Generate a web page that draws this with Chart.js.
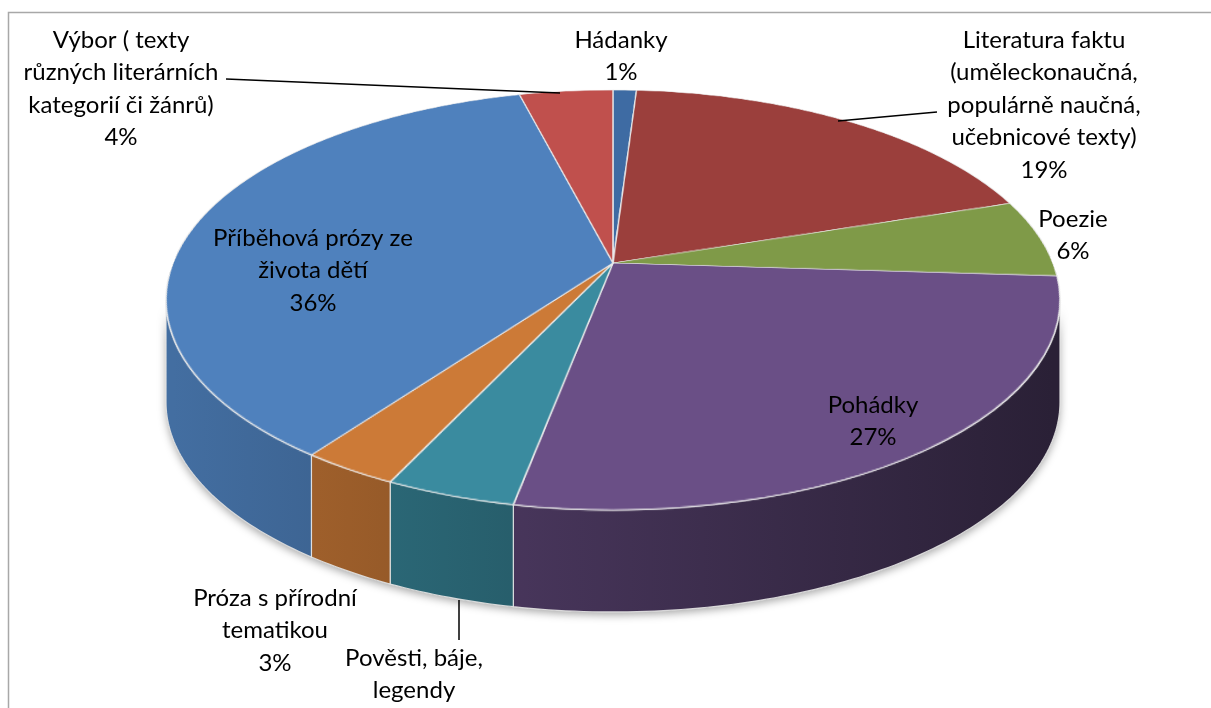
<!DOCTYPE html>
<html>
<head>
<meta charset="utf-8">
<script src="https://cdn.jsdelivr.net/npm/chart.js@4"></script>
<style>
  html, body { margin: 0; padding: 0; background: #fff; }
  #wrap { width: 1211px; height: 708px; position: relative; }
</style>
</head>
<body>
<div id="wrap"><canvas id="genreChart"></canvas></div>
<script>
// ===== DATA =====
const categories = [
    ["Hádanky"],
    ["Literatura faktu", "(uměleckonaučná,", "populárně naučná,", "učebnicové texty)"],
    ["Poezie"],
    ["Pohádky"],
    ["Pověsti, báje,", "legendy"],
    ["Próza s přírodní", "tematikou"],
    ["Příběhová prózy ze", "života dětí"],
    ["Výbor ( texty", "různých literárních", "kategorií či žánrů)"]
];
const shares = [1, 19, 6, 27, 4, 3, 36, 4];
const sliceColors = ["#3E6BA3", "#9B3F3C", "#7F9A48", "#6A4F86", "#3A8B9F", "#CC7A37", "#4F81BD", "#C0504D"];

// ===== LAYOUT =====
// tilted disc: apex of the slices, half axes and perspective factor, thickness
const persp = { cx: 613, cy: 263, a: 203.5, b: 440, k: -0.176, depth: 102 };
// centre of the first text line of every label
const labelPos = [[621, 40], [1044, 40], [1073, 219], [873, 405], [414, 658], [275, 598], [313, 238], [121, 40]];
const leaders = [null, [[838, 121], [937, 112]], null, null, [[459, 600], [459, 640]], null, null, [[226, 79], [560, 93]]];
const lineHeight = 32.5;
const labelFont = '24px Lato';

function shade(hex, f) {
    const n = parseInt(hex.slice(1), 16);
    const r = Math.round(((n >> 16) & 255) * f);
    const g = Math.round(((n >> 8) & 255) * f);
    const b = Math.round((n & 255) * f);
    return `rgb(${r},${g},${b})`;
}

// point on the rim of the disc for a pie angle, optionally dropped to the bottom face
function rimPoint(t, drop) {
    const s = Math.sin(t), c = Math.cos(t), d = 1 + persp.k * s;
    return [persp.cx + persp.b * c / d, persp.cy + persp.a * s / d + drop];
}

function rimPath(ctx, t0, t1) {
    const n = Math.max(2, Math.ceil((t1 - t0) * 60));
    for (let i = 0; i <= n; i++) {
        const p = rimPoint(t0 + (t1 - t0) * i / n, 0);
        i === 0 ? ctx.moveTo(p[0], p[1]) : ctx.lineTo(p[0], p[1]);
    }
    for (let i = n; i >= 0; i--) {
        const p = rimPoint(t0 + (t1 - t0) * i / n, persp.depth);
        ctx.lineTo(p[0], p[1]);
    }
    ctx.closePath();
}

// angles where the side of the disc turns away from the viewer
const sideRight = Math.asin(-persp.k);
const sideLeft = Math.PI - sideRight;

function drawWalls(ctx, arcs) {
    ctx.save();
    ctx.shadowColor = 'rgba(0,0,0,0.35)';
    ctx.shadowBlur = 9;
    ctx.shadowOffsetY = 3;
    ctx.beginPath();
    rimPath(ctx, sideRight, sideLeft);
    ctx.fillStyle = '#444';
    ctx.fill();
    ctx.restore();

    arcs.forEach((arc, i) => {
        const { startAngle, endAngle } = arc.getProps(['startAngle', 'endAngle'], true);
        const t0 = Math.max(startAngle, sideRight);
        const t1 = Math.min(endAngle, sideLeft);
        if (t1 <= t0) return;
        const grad = ctx.createLinearGradient(persp.cx - persp.b, 0, persp.cx + persp.b, 0);
        grad.addColorStop(0, shade(sliceColors[i], 0.85));
        grad.addColorStop(1, shade(sliceColors[i], 0.4));
        ctx.beginPath();
        rimPath(ctx, t0, t1);
        ctx.fillStyle = grad;
        ctx.fill();
        ctx.strokeStyle = 'rgba(230,230,230,0.9)';
        ctx.lineWidth = 1.2;
        ctx.stroke();
    });
}

// slices are drawn flattened on a buffer, then laid down row by row in perspective
function drawTop(ctx, arcs) {
    const Rh = 540, Rv = 210, m = 4;
    const buf = document.createElement('canvas');
    buf.width = 2 * Rh + 2 * m;
    buf.height = 2 * Rv + 2 * m;
    const o = buf.getContext('2d');
    const c0 = arcs[0].getProps(['x', 'y', 'outerRadius'], true);
    o.translate(Rh + m, Rv + m);
    o.scale(Rh / c0.outerRadius, Rv / c0.outerRadius);
    o.translate(-c0.x, -c0.y);
    arcs.forEach(arc => arc.draw(o));

    const { cx, cy, a, b, k } = persp;
    ctx.save();
    ctx.imageSmoothingEnabled = true;
    ctx.imageSmoothingQuality = 'high';
    const yTop = Math.floor(cy - a / (1 - k)) - 2;
    const yBot = Math.ceil(cy + a / (1 + k)) + 2;
    for (let y = yTop; y <= yBot; y++) {
        const dy = y + 0.5 - cy;
        const v = dy / (a - k * dy);
        if (Math.abs(v) > 1.03) continue;
        const d = 1 + k * v;
        const hw = b / d;
        const h = Rv * d * d / a;
        const sc = m + Rv * (1 + v);
        ctx.drawImage(buf, m, sc - h / 2, 2 * Rh, h, cx - hw, y, 2 * hw, 1);
    }
    ctx.restore();
}

const pie3d = {
    id: 'pie3d',
    beforeDraw(chart) {
        const ctx = chart.ctx;
        ctx.save();
        ctx.strokeStyle = '#A8A8A8';
        ctx.lineWidth = 1.5;
        ctx.beginPath();
        ctx.moveTo(8.5, 708);
        ctx.lineTo(8.5, 12.5);
        ctx.lineTo(1211, 12.5);
        ctx.stroke();
        ctx.restore();
    },
    beforeDatasetsDraw(chart) {
        const arcs = chart.getDatasetMeta(0).data;
        drawWalls(chart.ctx, arcs);
        drawTop(chart.ctx, arcs);
        return false;
    },
    afterDraw(chart) {
        const ctx = chart.ctx;
        ctx.save();
        ctx.font = labelFont;
        ctx.fillStyle = '#000';
        ctx.textAlign = 'center';
        ctx.textBaseline = 'middle';
        chart.data.labels.forEach((lines, i) => {
            const [x, y] = labelPos[i];
            lines.concat([shares[i] + '%']).forEach((t, j) => ctx.fillText(t, x, y + j * lineHeight));
            const ld = leaders[i];
            if (ld) {
                ctx.beginPath();
                ctx.moveTo(ld[0][0], ld[0][1]);
                ctx.lineTo(ld[1][0], ld[1][1]);
                ctx.strokeStyle = '#000';
                ctx.lineWidth = 1.5;
                ctx.stroke();
            }
        });
        ctx.restore();
    }
};

function drawChart() {
    new Chart(document.getElementById('genreChart'), {
        type: 'pie',
        data: {
            labels: categories,
            datasets: [{
                data: shares,
                backgroundColor: sliceColors,
                borderColor: 'rgba(235,235,235,0.95)',
                borderWidth: 1.2
            }]
        },
        options: {
            responsive: true,
            maintainAspectRatio: false,
            animation: false,
            events: [],
            layout: { padding: 0 },
            plugins: { legend: { display: false }, tooltip: { enabled: false } }
        },
        plugins: [pie3d]
    });
}

document.fonts.load(labelFont).then(drawChart, drawChart);
</script>
</body>
</html>
